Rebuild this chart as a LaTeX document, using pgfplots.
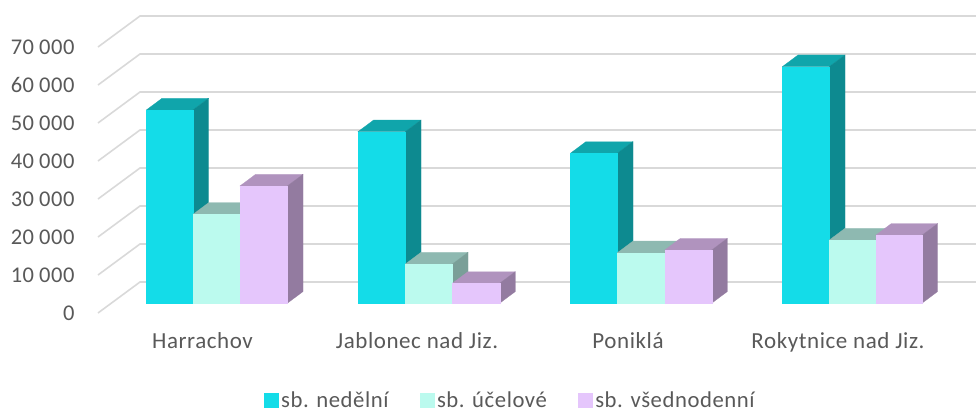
\documentclass[border=0pt]{standalone}
\usepackage{fontspec}
\setmainfont{Carlito}[LetterSpace=2.5]
\usepackage{pgfplots}
\pgfplotsset{compat=1.18}
\definecolor{tc}{HTML}{595959}
\definecolor{gl}{HTML}{D9D9D9}
\definecolor{af}{HTML}{14DCE8}\definecolor{at}{HTML}{10A5AB}\definecolor{as}{HTML}{0D8A90}
\definecolor{bf}{HTML}{BBFAEE}\definecolor{bt}{HTML}{8EB9B1}\definecolor{bs}{HTML}{7A9F98}
\definecolor{cf}{HTML}{E5C6FC}\definecolor{ct}{HTML}{B093BE}\definecolor{cs}{HTML}{937BA0}
% x0, x1, value, front, top, side
\newcommand\dbar[6]{%
  \pgfmathsetmacro\xa{#1+15.7}\pgfmathsetmacro\xb{#2+15.7}%
  \edef\ya{\the\numexpr#3+3080\relax}\edef\yb{3080}%
  \edef\tmp{\noexpand\addplot[fill=#5,draw=#5,line width=0.2pt,forget plot] coordinates {(#1,#3)(#2,#3)(\xb,\ya)(\xa,\ya)} -- cycle;
  \noexpand\addplot[fill=#6,draw=#6,line width=0.2pt,forget plot] coordinates {(#2,0)(\xb,\yb)(\xb,\ya)(#2,#3)} -- cycle;
  \noexpand\addplot[fill=#4,draw=#4,line width=0.2pt,forget plot] coordinates {(#1,0)(#2,0)(#2,#3)(#1,#3)} -- cycle;}\tmp}
\begin{document}
\begin{tikzpicture}
\path[use as bounding box] (-98pt,-99pt) rectangle (878pt,313pt);
\begin{axis}[
  scale only axis,width=878pt,height=266pt,
  xmin=98,xmax=976,ymin=0,ymax=70000,clip=false,
  axis line style={draw=none},major tick length=0pt,
  ytick={0,10000,20000,30000,40000,50000,60000,70000},
  scaled y ticks=false,
  /pgf/number format/assume math mode=true,
  y tick label style={font=\fontsize{22.5}{24}\selectfont,text=tc,/pgf/number format/1000 sep={\hspace{5pt}},xshift=-20pt},
  x tick label style={font=\fontsize{23}{26}\selectfont,text=tc,yshift=-16pt},
  xtick={202.5,417,628,838},
  xticklabels={Harrachov,Jablonec nad Jiz.,Poniklá,Rokytnice nad Jiz.},
]
\pgfplotsinvokeforeach{0,10000,20000,30000,40000,50000,60000,70000}{
  \addplot[gl,line width=1.6pt,forget plot] coordinates {(98,#1)(140,#1+8158)(976,#1+8158)};
}
\end{axis}
\begin{axis}[
  scale only axis,width=878pt,height=266pt,
  xmin=98.4,xmax=976.4,ymin=-2553,ymax=67447,clip=false,hide axis,
  legend columns=3,
  legend style={at={(0.4695,-0.328)},anchor=center,draw=none,fill=none,
    font=\fontsize{22.7}{23}\selectfont,text=tc,
    /tikz/every even column/.append style={column sep=29pt}},
  legend image code/.code={\fill[#1] (0pt,-7pt) rectangle (14pt,7pt);\path (15pt,0pt);},
]
\dbar{146.7}{193.3}{50870}{af}{at}{as}
\dbar{193.3}{240.3}{23400}{bf}{bt}{bs}
\dbar{240.3}{287.7}{30870}{cf}{ct}{cs}
\dbar{358.3}{405.7}{45150}{af}{at}{as}
\dbar{405.7}{452.7}{10340}{bf}{bt}{bs}
\dbar{452.7}{500}{5260}{cf}{ct}{cs}
\dbar{570.7}{617.7}{39470}{af}{at}{as}
\dbar{617.7}{665}{13300}{bf}{bt}{bs}
\dbar{665}{712}{14000}{cf}{ct}{cs}
\dbar{782.7}{829.7}{62270}{af}{at}{as}
\dbar{829.7}{876}{16660}{bf}{bt}{bs}
\dbar{876}{922.3}{17900}{cf}{ct}{cs}
\addlegendimage{af}\addlegendentry{sb. nedělní}
\addlegendimage{bf}\addlegendentry{sb. účelové}
\addlegendimage{cf}\addlegendentry{sb. všednodenní}
\end{axis}
\end{tikzpicture}
\end{document}
